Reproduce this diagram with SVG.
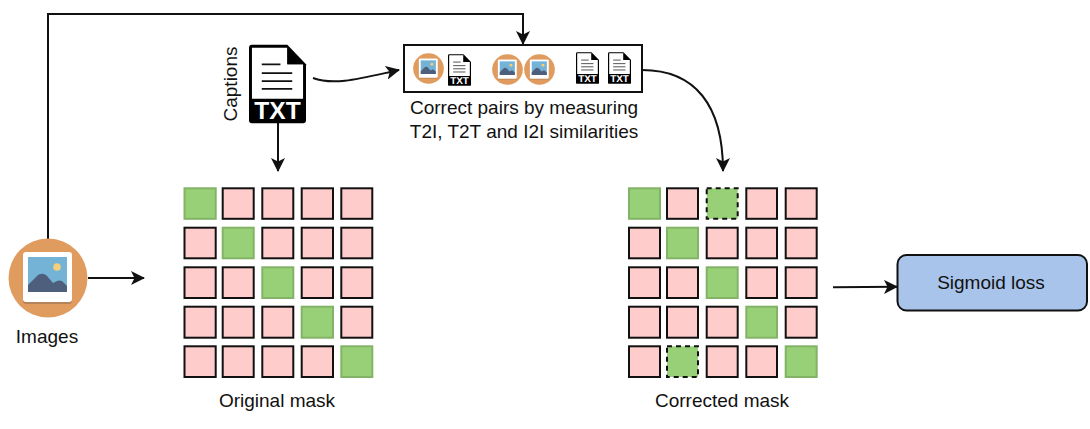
<svg xmlns="http://www.w3.org/2000/svg" xmlns:xlink="http://www.w3.org/1999/xlink" width="1090" height="429" viewBox="0 0 1090 429">
<style>
text{font-family:"Liberation Sans",Arial,sans-serif;font-size:19px;fill:#111}
.t{text-anchor:middle}
.r{fill:#ffcccc;stroke:#111;stroke-width:2}
.g{fill:#97d077;stroke:#82b366;stroke-width:2}
.d{fill:#97d077;stroke:#111;stroke-width:2;stroke-dasharray:5 4}
.c{fill:none;stroke:#111;stroke-width:2}
.ti{font-family:"Liberation Sans",Arial,sans-serif;font-weight:bold;fill:#fff;text-anchor:middle;font-size:25px;text-rendering:geometricPrecision}
</style>
<defs>
<marker id="a" viewBox="0 0 14 14" refX="13" refY="7" markerWidth="14" markerHeight="14" markerUnits="userSpaceOnUse" orient="auto"><path d="M0 0L14 7L0 14L3.5 7Z" fill="#111"/></marker>
<symbol id="img" viewBox="0 0 80 80" overflow="visible">
<circle cx="40" cy="40" r="39.500" fill="#e09b5f"/>
<rect x="15" y="15" width="49" height="51" rx="3" fill="#b5835a"/>
<rect x="15" y="14" width="49" height="50" rx="3" fill="#fff"/>
<rect x="20" y="19" width="39" height="35" fill="#74b2d6"/>
<circle cx="49" cy="29" r="3.800" fill="#f6cf7c"/>
<path d="M20 54V47L29 38C32 35 36 35 39 38L45 45L49 43C51 42 54 42 56 45L59 48V54Z" fill="#4d5f7c"/>
</symbol>
<symbol id="txt" viewBox="0 0 58 80" overflow="visible">
<path d="M3 0H39L58 20V77Q58 80 55 80H3Q0 80 0 77V3Q0 0 3 0Z" fill="#000"/>
<path d="M3 3H39V20H55V55H3Z" fill="#fff"/>
<path d="M39 2L57 20H39Z" fill="#000"/>
<path d="M13 20H32M13 29H44M13 37H44M13 45H44" stroke="#111" stroke-width="1.800" fill="none"/>
<text x="29" y="76" class="ti">TXT</text>
</symbol>
</defs>
<g id="connectors">
<path class="c" d="M48 239V14H523V44" marker-end="url(#a)"/>
<path class="c" d="M313 78C335 86 362 78 399 70" marker-end="url(#a)"/>
<path class="c" d="M278 123V171" marker-end="url(#a)"/>
<path class="c" d="M88 278H144" marker-end="url(#a)"/>
<path class="c" d="M642 70C695 70 723 105 723 171" marker-end="url(#a)"/>
<path class="c" d="M833 287.300L897 286.800" marker-end="url(#a)"/>
</g>
<g id="images"><use href="#img" x="8" y="238" width="80" height="80"/><text class="t" x="47" y="343">Images</text></g>
<g id="captions"><use href="#txt" x="249" y="44" width="57" height="80"/><text class="t" transform="translate(237 84) rotate(-90)">Captions</text></g>
<g id="pairs">
<rect x="404" y="45" width="238" height="47" fill="#fff" stroke="#111" stroke-width="2"/>
<use href="#img" x="413" y="53" width="31" height="31"/><use href="#txt" x="448" y="54" width="23" height="32"/>
<use href="#img" x="492" y="54" width="31" height="31"/><use href="#img" x="524" y="54" width="31" height="31"/>
<use href="#txt" x="576" y="52" width="23" height="32"/><use href="#txt" x="608" y="52" width="23" height="32"/>
<text class="t" x="524" y="114">Correct pairs by measuring</text>
<text class="t" x="524" y="138">T2I, T2T and I2I similarities</text>
</g>
<g id="original-mask">
<rect class="g" x="184.500" y="188.300" width="31.200" height="30.500"/><rect class="r" x="222.700" y="188.300" width="31" height="30.500"/><rect class="r" x="262.300" y="188.300" width="31" height="30.500"/><rect class="r" x="301.700" y="188.300" width="31.300" height="30.500"/><rect class="r" x="341.300" y="188.300" width="31" height="30.500"/>
<rect class="r" x="184.500" y="227.700" width="31.200" height="30.600"/><rect class="g" x="222.700" y="227.700" width="31" height="30.600"/><rect class="r" x="262.300" y="227.700" width="31" height="30.600"/><rect class="r" x="301.700" y="227.700" width="31.300" height="30.600"/><rect class="r" x="341.300" y="227.700" width="31" height="30.600"/>
<rect class="r" x="184.500" y="267.300" width="31.200" height="30.700"/><rect class="r" x="222.700" y="267.300" width="31" height="30.700"/><rect class="g" x="262.300" y="267.300" width="31" height="30.700"/><rect class="r" x="301.700" y="267.300" width="31.300" height="30.700"/><rect class="r" x="341.300" y="267.300" width="31" height="30.700"/>
<rect class="r" x="184.500" y="306.700" width="31.200" height="31"/><rect class="r" x="222.700" y="306.700" width="31" height="31"/><rect class="r" x="262.300" y="306.700" width="31" height="31"/><rect class="g" x="301.700" y="306.700" width="31.300" height="31"/><rect class="r" x="341.300" y="306.700" width="31" height="31"/>
<rect class="r" x="184.500" y="346.300" width="31.200" height="30.700"/><rect class="r" x="222.700" y="346.300" width="31" height="30.700"/><rect class="r" x="262.300" y="346.300" width="31" height="30.700"/><rect class="r" x="301.700" y="346.300" width="31.300" height="30.700"/><rect class="g" x="341.300" y="346.300" width="31" height="30.700"/>
<text class="t" x="277" y="407">Original mask</text>
</g>
<g id="corrected-mask">
<rect class="g" x="629" y="188.300" width="31" height="30.500"/><rect class="r" x="667" y="188.300" width="31" height="30.500"/><rect class="d" x="706.700" y="188.300" width="31" height="30.500"/><rect class="r" x="746.300" y="188.300" width="30.700" height="30.500"/><rect class="r" x="785.700" y="188.300" width="31" height="30.500"/>
<rect class="r" x="629" y="227.700" width="31" height="30.600"/><rect class="g" x="667" y="227.700" width="31" height="30.600"/><rect class="r" x="706.700" y="227.700" width="31" height="30.600"/><rect class="r" x="746.300" y="227.700" width="30.700" height="30.600"/><rect class="r" x="785.700" y="227.700" width="31" height="30.600"/>
<rect class="r" x="629" y="267.300" width="31" height="30.700"/><rect class="r" x="667" y="267.300" width="31" height="30.700"/><rect class="g" x="706.700" y="267.300" width="31" height="30.700"/><rect class="r" x="746.300" y="267.300" width="30.700" height="30.700"/><rect class="r" x="785.700" y="267.300" width="31" height="30.700"/>
<rect class="r" x="629" y="306.700" width="31" height="31"/><rect class="r" x="667" y="306.700" width="31" height="31"/><rect class="r" x="706.700" y="306.700" width="31" height="31"/><rect class="g" x="746.300" y="306.700" width="30.700" height="31"/><rect class="r" x="785.700" y="306.700" width="31" height="31"/>
<rect class="r" x="629" y="346.300" width="31" height="30.700"/><rect class="d" x="667" y="346.300" width="31" height="30.700"/><rect class="r" x="706.700" y="346.300" width="31" height="30.700"/><rect class="r" x="746.300" y="346.300" width="30.700" height="30.700"/><rect class="g" x="785.700" y="346.300" width="31" height="30.700"/>
<text class="t" x="722" y="407">Corrected mask</text>
</g>
<g id="sigmoid-loss"><rect x="897.500" y="255" width="189.500" height="55.500" rx="9" fill="#a9c4eb" stroke="#111" stroke-width="2"/><text class="t" x="991" y="289">Sigmoid loss</text></g>
</svg>
